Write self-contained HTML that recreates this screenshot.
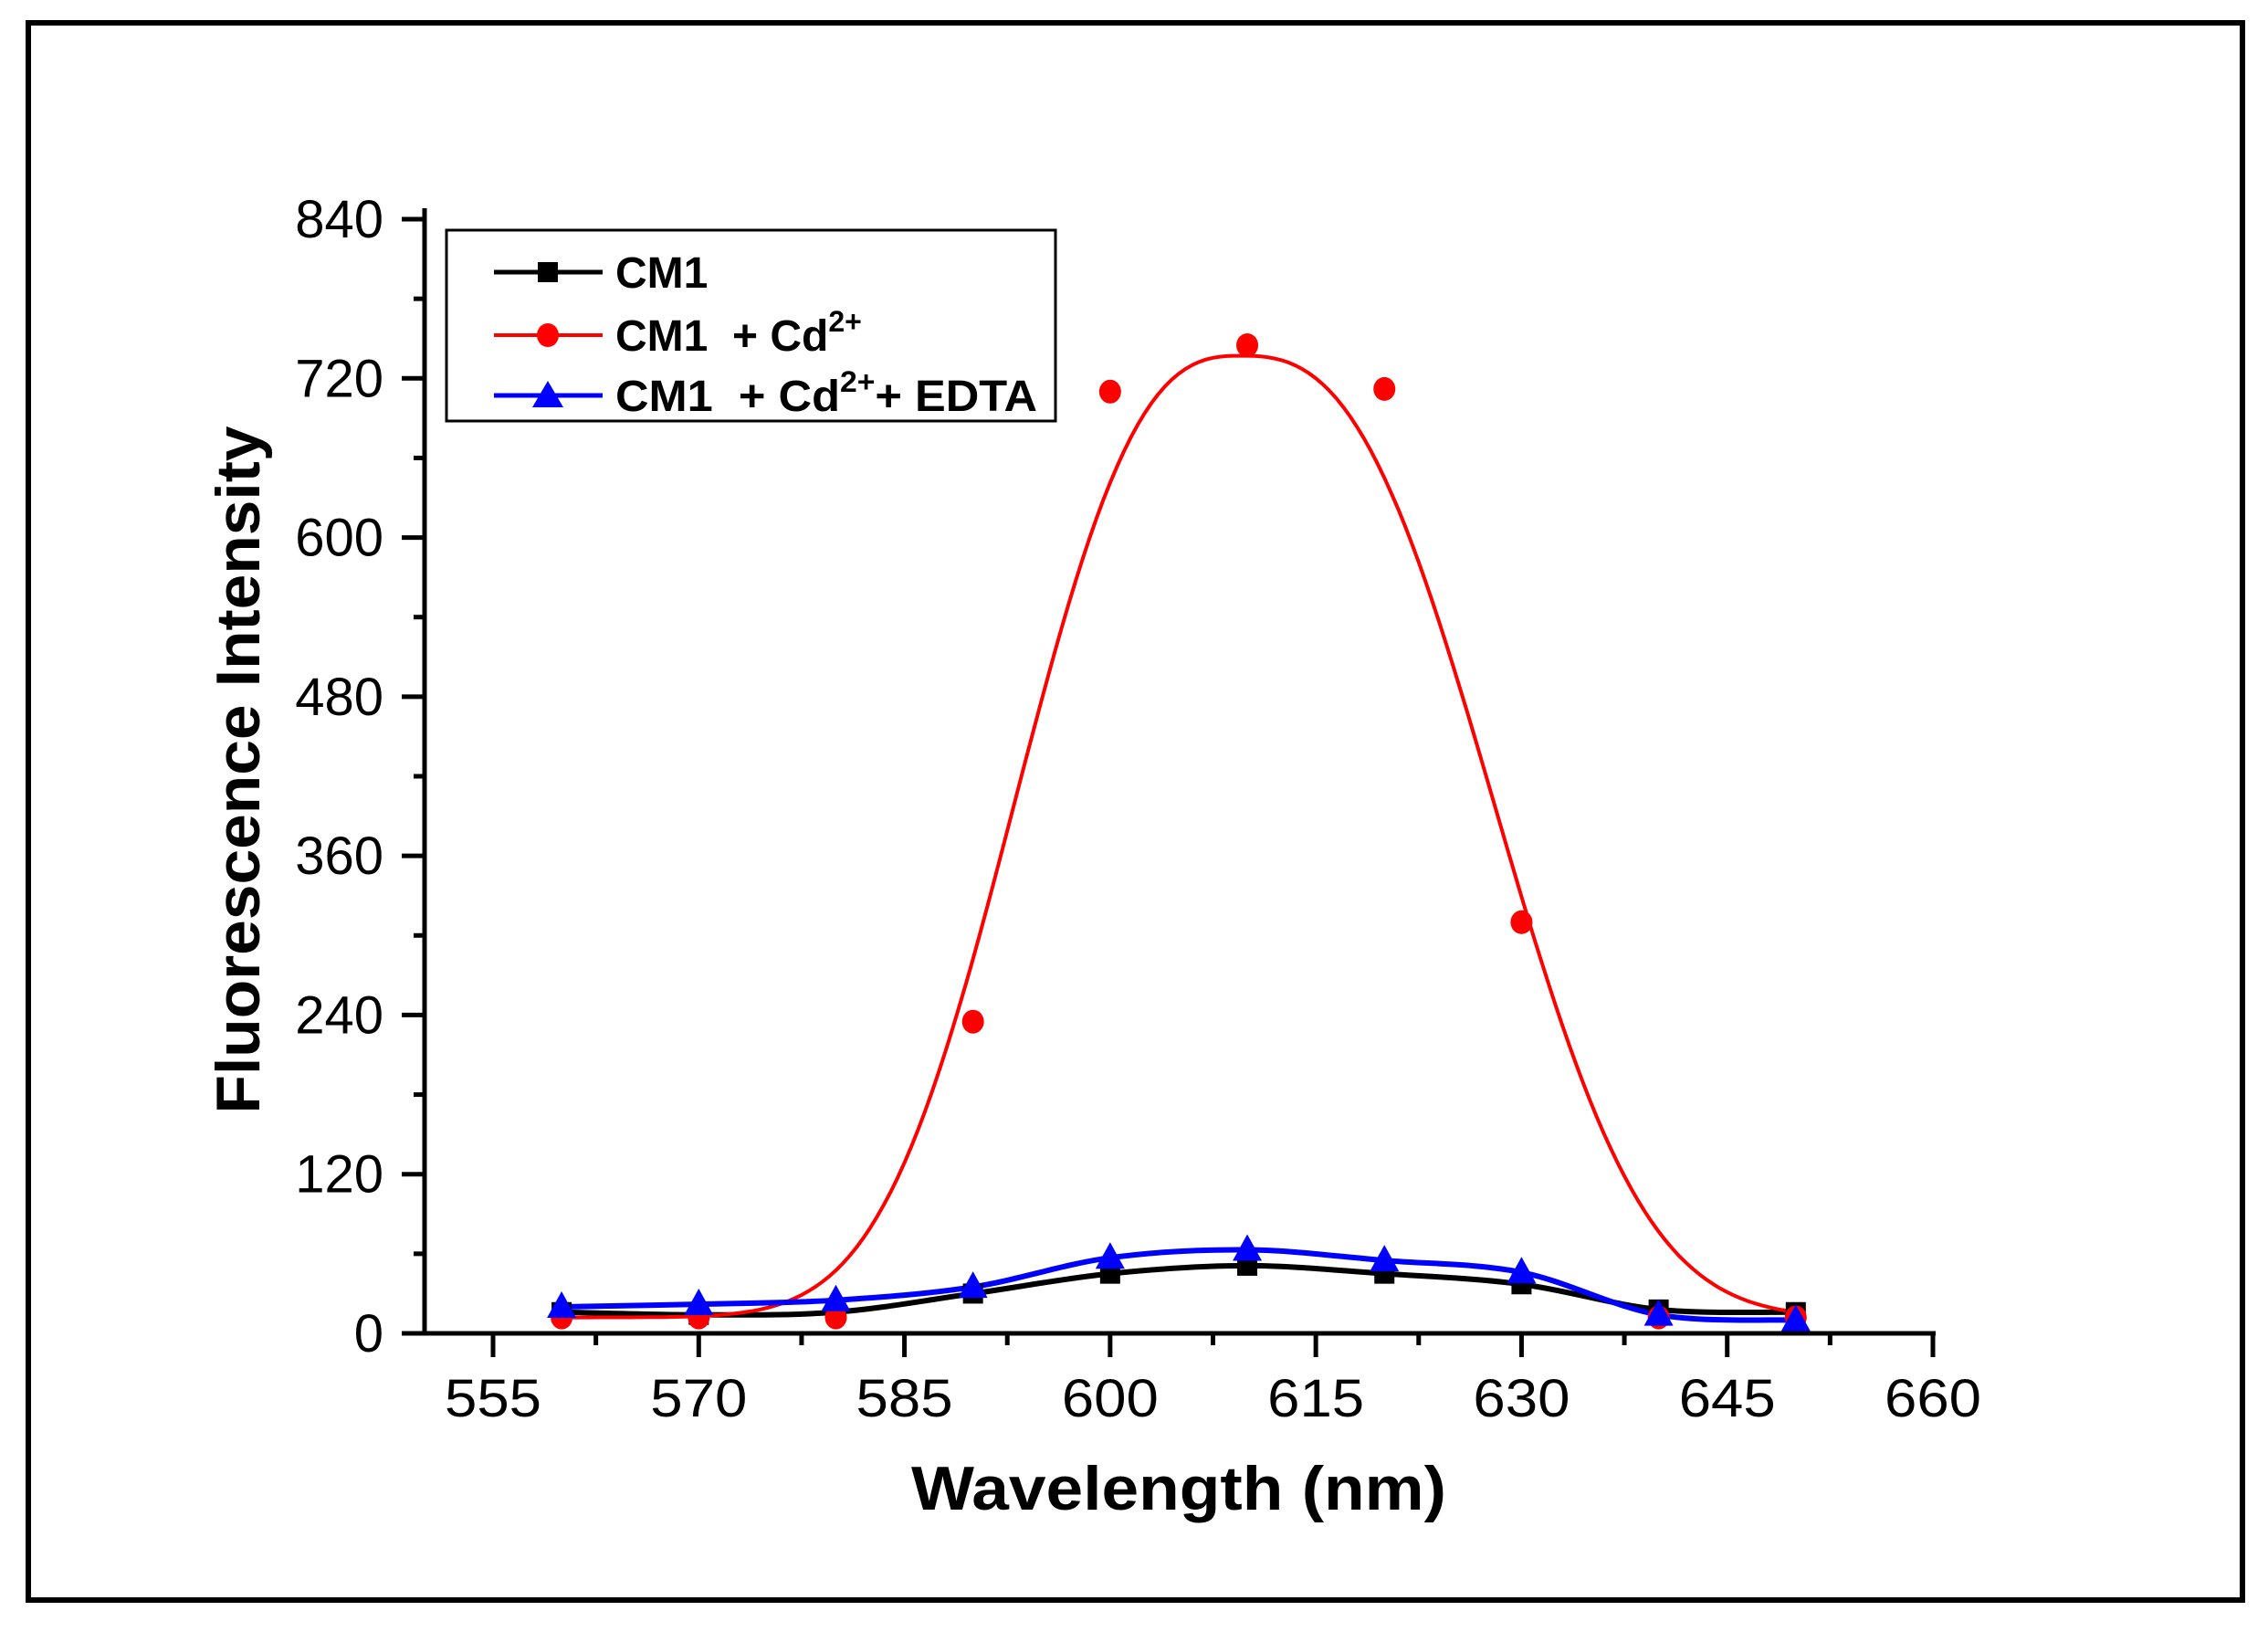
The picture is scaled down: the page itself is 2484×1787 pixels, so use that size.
<!DOCTYPE html>
<html><head><meta charset="utf-8">
<style>
html,body{margin:0;padding:0;background:#fff;}
svg{display:block;}
text{font-family:"Liberation Sans",Arial,sans-serif;}
</style></head>
<body>
<svg id="s" width="2484" height="1787" viewBox="0 0 2484 1787" xmlns="http://www.w3.org/2000/svg">
<rect x="0" y="0" width="2484" height="1787" fill="#fff"/>
<rect x="31" y="25" width="2425" height="1727" fill="none" stroke="#000" stroke-width="6"/>
<g id="axes" stroke="#000" stroke-width="5" fill="none"></g>
<g id="labels" font-size="58" fill="#000"></g>
<g id="series"></g>
<!-- legend -->
<rect x="489" y="252" width="667" height="209" fill="#fff" stroke="#000" stroke-width="3"/>
<line x1="541" y1="298" x2="660" y2="298" stroke="#000" stroke-width="5"/>
<rect x="589" y="287" width="22" height="22" fill="#000"/>
<line x1="541" y1="367" x2="660" y2="367" stroke="#f00" stroke-width="4"/>
<ellipse cx="600" cy="367" rx="12" ry="13" fill="#f00"/>
<line x1="541" y1="433" x2="660" y2="433" stroke="#00f" stroke-width="5"/>
<polygon points="600,417 583,446 617,446" fill="#00f"/>
<g font-weight="bold" font-size="48" fill="#000">
<text x="674" y="315">CM1</text>
<text x="674" y="384">CM1 &#160;+ Cd<tspan font-size="32" dy="-21">2+</tspan></text>
<text x="674" y="450" textLength="462" lengthAdjust="spacingAndGlyphs">CM1 &#160;+ Cd<tspan font-size="32" dy="-21">2+</tspan><tspan dy="21">+ EDTA</tspan></text>
</g>
<text x="1291" y="1653" font-size="68" font-weight="bold" text-anchor="middle" textLength="586" lengthAdjust="spacingAndGlyphs">Wavelength (nm)</text>
<text transform="translate(284,843) rotate(-90)" font-size="68" font-weight="bold" text-anchor="middle" textLength="753" lengthAdjust="spacingAndGlyphs">Fluorescence Intensity</text>
</svg>
<script>
const NS="http://www.w3.org/2000/svg";
const X=w=>540+(w-555)*(2117-540)/105;
const Y=v=>1460-v*1220/840;
function el(p,tag,a){const e=document.createElementNS(NS,tag);for(const k in a)e.setAttribute(k,a[k]);p.appendChild(e);return e;}
const ax=document.getElementById('axes'), lb=document.getElementById('labels');
el(ax,'line',{x1:465,y1:228,x2:465,y2:1462});
el(ax,'line',{x1:463,y1:1460,x2:2120,y2:1460});
for(let v=0;v<=840;v+=60){const y=Y(v);const maj=v%120==0;
 el(ax,'line',{x1:maj?440:453,y1:y,x2:465,y2:y});
 if(maj){const t=el(lb,'text',{x:420,y:y+20,'text-anchor':'end'});t.textContent=v;}}
for(let w=555;w<=660;w+=7.5){const x=X(w);const maj=Math.abs(w%15)<0.01;
 el(ax,'line',{x1:x,y1:1460,x2:x,y2:maj?1486:1473});
 if(maj){const t=el(lb,'text',{x:x,y:1551,'text-anchor':'middle',textLength:106,lengthAdjust:'spacingAndGlyphs'});t.textContent=w;}}
const xs=[560,570,580,590,600,610,620,630,640,650];
const blk=[16,14,16,30,45,51,45,37,18,16];
const blu=[20,22,25,35,57,63,55,46,14,10];
const red=[12,12,12,235,710,745,712,310,12,12];
function spline(vals){const p=xs.map((w,i)=>[X(w),Y(vals[i])]);let d=`M${p[0][0]},${p[0][1]}`;
 for(let i=0;i<p.length-1;i++){const p0=p[i-1]||p[i],p1=p[i],p2=p[i+1],p3=p[i+2]||p[i+1];
  d+=` C${p1[0]+(p2[0]-p0[0])/6},${p1[1]+(p2[1]-p0[1])/6} ${p2[0]-(p3[0]-p1[0])/6},${p2[1]-(p3[1]-p1[1])/6} ${p2[0]},${p2[1]}`;}
 return d;}
const sg=document.getElementById('series');
let d='';for(let w=560;w<=650;w+=0.5){const c=609.5;const a=w<c?19.6:22;const v=12+725*Math.exp(-Math.pow(Math.abs(w-c)/a,2.7));d+=(d?' L':'M')+X(w).toFixed(1)+','+Y(v).toFixed(1);}
el(sg,'path',{d:spline(blk),fill:'none',stroke:'#000','stroke-width':6});
el(sg,'path',{d:d,fill:'none',stroke:'#f00','stroke-width':4});
el(sg,'path',{d:spline(blu),fill:'none',stroke:'#00f','stroke-width':6});
xs.forEach((w,i)=>{el(sg,'rect',{x:X(w)-11,y:Y(blk[i])-11,width:22,height:22,fill:'#000'});});
xs.forEach((w,i)=>{el(sg,'ellipse',{cx:X(w),cy:Y(red[i]),rx:12,ry:13,fill:'#f00'});});
xs.forEach((w,i)=>{const x=X(w),y=Y(blu[i]);el(sg,'polygon',{points:`${x},${y-17} ${x-16},${y+12} ${x+16},${y+12}`,fill:'#00f'});});
</script>
</body></html>
